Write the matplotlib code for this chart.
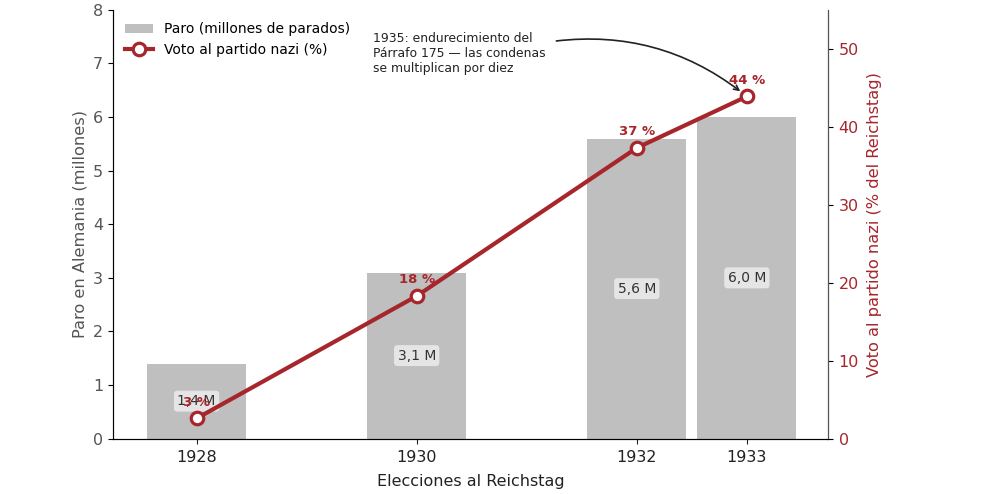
import matplotlib.pyplot as plt
import numpy as np

years = [1928, 1930, 1932, 1933]
paro = [1.4, 3.1, 5.6, 6.0]
voto = [2.6, 18.3, 37.3, 43.9]
paro_labels = ["1,4 M", "3,1 M", "5,6 M", "6,0 M"]
voto_labels = ["3 %", "18 %", "37 %", "44 %"]

red = "#a6262c"
grey = "#bfbfbf"

fig, ax = plt.subplots(figsize=(10.04, 4.94), dpi=100)
fig.subplots_adjust(left=0.1125, right=0.825, top=0.98, bottom=0.112)

bars = ax.bar(years, paro, width=0.9, color=grey, label="Paro (millones de parados)", zorder=1)
for x, v, lab in zip(years, paro, paro_labels):
    ax.text(x, v / 2, lab, ha="center", va="center", fontsize=10, color="#333333",
            bbox=dict(boxstyle="round,pad=0.25", fc="white", ec="none", alpha=0.6))

ax.set_xlim(1927.24, 1933.74)
ax.set_ylim(0, 8)
ax.set_xticks(years)
ax.set_xticklabels([str(y) for y in years])
ax.set_xlabel("Elecciones al Reichstag", fontsize=11.5, color="#222222", labelpad=6)
ax.set_ylabel("Paro en Alemania (millones)", fontsize=11.7, color="#555555")
ax.tick_params(axis="x", labelsize=11.5, colors="#222222", pad=5)
ax.tick_params(axis="y", labelsize=11.5, labelcolor="#555555")
ax.spines["top"].set_visible(False)
ax.spines["left"].set_color("#555555")
ax.spines["bottom"].set_color("#333333")

ax2 = ax.twinx()
line, = ax2.plot(years, voto, color=red, lw=3, marker="o", ms=9, mfc="white",
                 mew=2.3, mec=red, label="Voto al partido nazi (%)", zorder=3)
for x, v, lab in zip(years, voto, voto_labels):
    ax2.annotate(lab, (x, v), xytext=(0, 7), textcoords="offset points", ha="center",
                 va="bottom", fontsize=9.5, fontweight="bold", color=red)
ax2.set_ylim(0, 55)
ax2.set_ylabel("Voto al partido nazi (% del Reichstag)", fontsize=11.7, color=red, labelpad=6)
ax2.tick_params(axis="y", labelsize=11.5, labelcolor=red, pad=4)
ax2.spines["top"].set_visible(False)
ax2.spines["right"].set_color("#555555")

ax2.annotate("1935: endurecimiento del\nPárrafo 175 — las condenas\nse multiplican por diez",
             xy=(1933, 43.9), xycoords="data", xytext=(1929.6, 52.2), textcoords="data",
             ha="left", va="top", fontsize=8.9, color="#222222",
             arrowprops=dict(arrowstyle="->", color="#222222", lw=1.2, relpos=(1.0, 0.75),
                             connectionstyle="arc3,rad=-0.22", shrinkA=6, shrinkB=6))

ax.legend([bars, line], ["Paro (millones de parados)", "Voto al partido nazi (%)"],
          loc="upper left", fontsize=10, frameon=False)

fig.savefig("out.png")
